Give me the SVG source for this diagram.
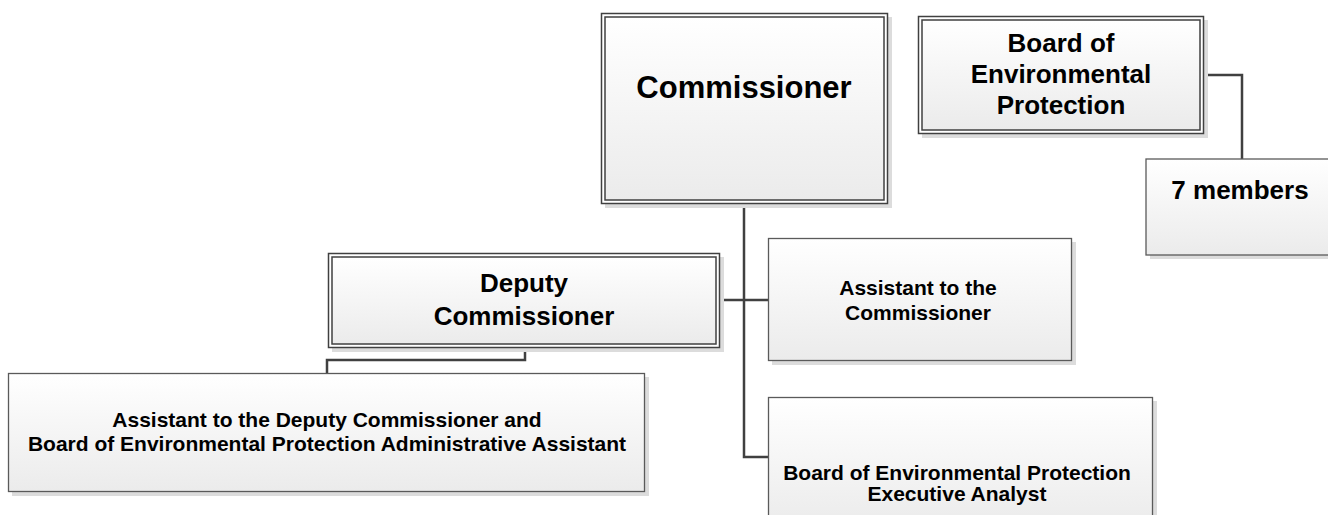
<svg xmlns="http://www.w3.org/2000/svg" width="1328" height="515" viewBox="0 0 1328 515">
<defs>
<linearGradient id="g" x1="0" y1="0" x2="0" y2="1">
<stop offset="0" stop-color="#ffffff"/>
<stop offset="1" stop-color="#ebebeb"/>
</linearGradient>
<style>
.sh{fill:#dcdcdc;}
.bx{fill:url(#g);stroke:#5a5a5a;stroke-width:1.3;}
.ob{fill:#ffffff;stroke:#404040;stroke-width:1.5;}
.ib{fill:url(#g);stroke:#404040;stroke-width:1.5;}
.t{font-family:"Liberation Sans",Arial,sans-serif;font-weight:bold;fill:#000;text-anchor:middle;}
.c{fill:none;stroke:#404040;stroke-width:2.5;}
</style>
</defs>
<rect width="1328" height="515" fill="#ffffff"/>
<g id="connectors">
<path class="c" d="M744,204 V457 H768"/>
<path class="c" d="M720,300 H768"/>
<path class="c" d="M525,348 V360 H327 V373"/>
<path class="c" d="M1204,75 H1242 V159"/>
</g>
<g id="commissioner">
<rect class="sh" x="605" y="17" width="287" height="191"/>
<rect class="ob" x="601.5" y="13.5" width="286" height="190"/>
<rect class="ib" x="605" y="17" width="279" height="183"/>
<text class="t" x="744" y="98" font-size="31">Commissioner</text>
</g>
<g id="board">
<rect class="sh" x="922" y="20" width="286" height="118"/>
<rect class="ob" x="918.5" y="16.5" width="285" height="117"/>
<rect class="ib" x="922" y="20" width="278" height="110"/>
<text class="t" x="1061" y="52" font-size="26">Board of</text>
<text class="t" x="1061" y="83" font-size="26">Environmental</text>
<text class="t" x="1061" y="114" font-size="26">Protection</text>
</g>
<g id="members">
<rect class="sh" x="1150" y="163" width="195" height="96"/>
<rect class="bx" x="1146" y="159" width="195" height="96"/>
<text class="t" x="1240" y="199" font-size="26">7 members</text>
</g>
<g id="deputy">
<rect class="sh" x="332" y="257" width="392" height="95"/>
<rect class="ob" x="328.5" y="253.5" width="391" height="94"/>
<rect class="ib" x="332" y="257" width="384" height="87"/>
<text class="t" x="524" y="292" font-size="26">Deputy</text>
<text class="t" x="524" y="325" font-size="26">Commissioner</text>
</g>
<g id="asst-commissioner">
<rect class="sh" x="772" y="242" width="304" height="123"/>
<rect class="bx" x="768.5" y="238.5" width="303" height="122"/>
<text class="t" x="918" y="295" font-size="21">Assistant to the</text>
<text class="t" x="918" y="320" font-size="21">Commissioner</text>
</g>
<g id="asst-deputy">
<rect class="sh" x="12" y="377" width="637" height="119"/>
<rect class="bx" x="8.5" y="373.5" width="636" height="118"/>
<text class="t" x="327" y="427" font-size="21">Assistant to the Deputy Commissioner and</text>
<text class="t" x="327" y="451" font-size="21">Board of Environmental Protection Administrative Assistant</text>
</g>
<g id="exec-analyst">
<rect class="sh" x="772" y="401" width="385" height="130"/>
<rect class="bx" x="768.5" y="397.5" width="384" height="130"/>
<text class="t" x="957" y="480" font-size="21">Board of Environmental Protection</text>
<text class="t" x="957" y="501" font-size="21">Executive Analyst</text>
</g>
</svg>
